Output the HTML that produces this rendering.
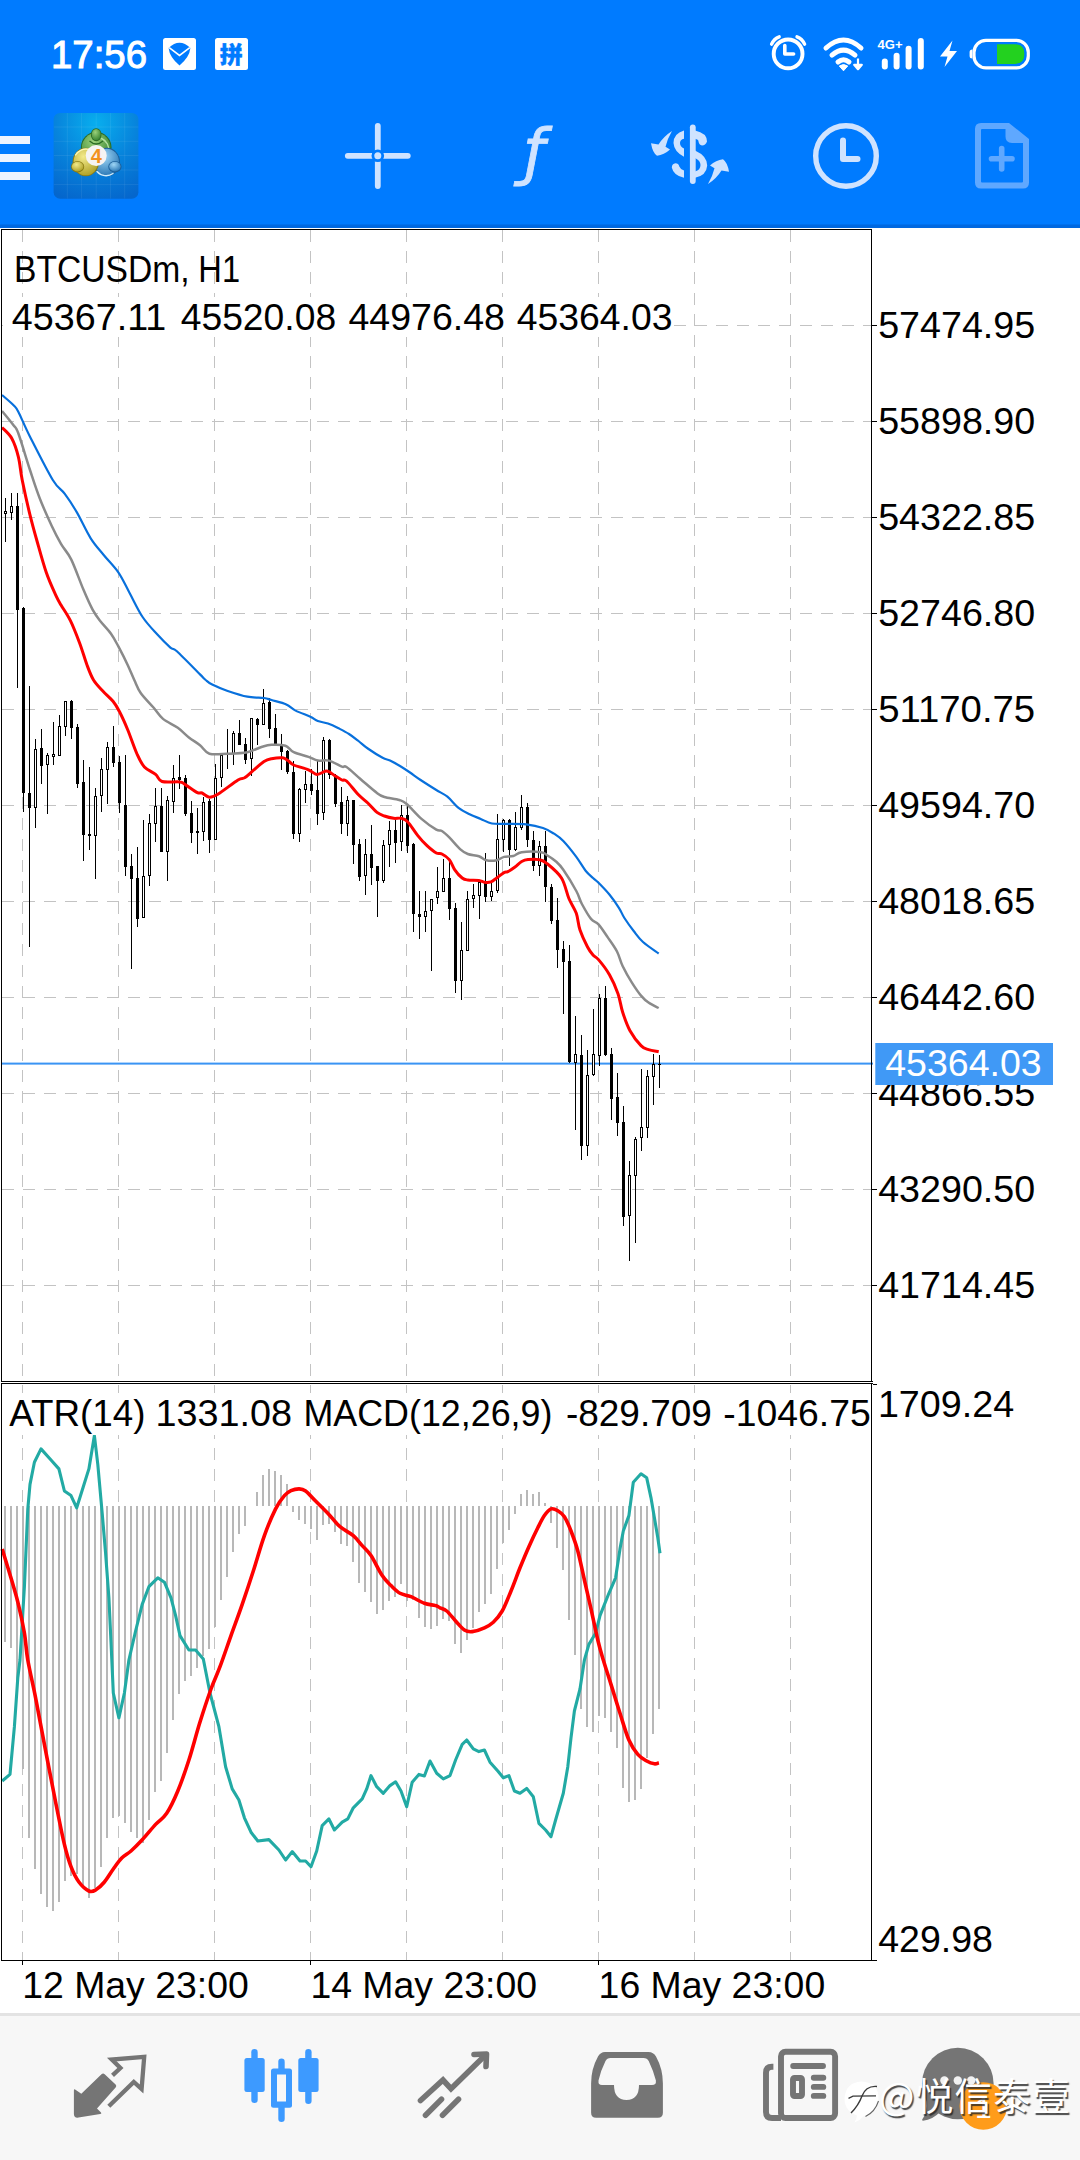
<!DOCTYPE html>
<html><head><meta charset="utf-8"><title>MetaTrader 4 - BTCUSDm, H1</title>
<style>
html,body{margin:0;padding:0;background:#fff}
body{width:1080px;height:2160px;position:relative;overflow:hidden;font-family:"Liberation Sans","Noto Sans CJK SC",sans-serif}
#top{position:absolute;left:0;top:0;width:1080px;height:228px;background:#007bff}
#nav{position:absolute;left:0;top:2013px;width:1080px;height:147px;background:#f7f7f7;border-top:3px solid #e3e3e3;box-sizing:border-box}
.abs{position:absolute}
</style></head><body>
<div id="top"></div>
<svg id="topsvg" width="1080" height="228" viewBox="0 0 1080 228" style="position:absolute;left:0;top:0">
<rect x="0" y="224.500" width="1080" height="3.500" fill="#0068e0"/>
<!-- status bar -->
<text x="51" y="67.5" font-family="Liberation Sans, Arial, sans-serif" font-size="38" fill="#fff" stroke="#fff" stroke-width="1.0" textLength="96" lengthAdjust="spacingAndGlyphs">17:56</text>
<rect x="163" y="38" width="33" height="32" rx="2.5" fill="#fff"/>
<path d="M168.6 47.9Q179.5 37.5 190.4 47.9Q189.5 57 179.5 65.4Q169.5 57 168.6 47.9Z" fill="#007bff"/>
<path d="M169.2 47.7L179.5 55.5L189.8 47.7" fill="none" stroke="#fff" stroke-width="1.6"/>
<rect x="215" y="38" width="33" height="32" rx="2.5" fill="#fff"/>
<text x="231.3" y="62.5" text-anchor="middle" font-family="Noto Sans CJK SC, WenQuanYi Zen Hei, sans-serif" font-weight="900" font-size="23" fill="#007bff" stroke="#007bff" stroke-width="0.4">拼</text>
<!-- alarm -->
<g fill="none" stroke="#fff" stroke-linecap="round">
<circle cx="788.1" cy="53.9" r="14.4" stroke-width="3.9"/>
<path d="M784.8 45.6V54H793.6" stroke-width="3.6" stroke-linejoin="round"/>
<path d="M771.6 44.2Q774 38.600 779.2 36.800" stroke-width="3.4"/>
<path d="M804.6 44.2Q802.200 38.600 797 36.800" stroke-width="3.4"/>
</g>
<!-- wifi -->
<g fill="none" stroke="#fff" stroke-width="5" stroke-linecap="round">
<path d="M826 48Q843.500 32 861 48"/>
<path d="M832 55.200Q843.500 45.200 855 55.200"/>
<path d="M838 62Q843.500 57.500 849 62"/>
</g>
<path d="M843.500 70.800L839.300 66Q843.500 63 847.700 66Z" fill="#fff" stroke="#fff" stroke-width="1" stroke-linejoin="round"/>
<path d="M858 58.500V65.500M854.200 64.800L858 69.200L861.800 64.800Z" fill="#fff" stroke="#fff" stroke-width="2.200" stroke-linejoin="round"/>
<!-- 4G+ and signal -->
<text x="877.5" y="48.6" font-family="Liberation Sans, Arial, sans-serif" font-weight="700" font-size="13.5" fill="#fff" textLength="25" lengthAdjust="spacingAndGlyphs">4G+</text>
<g fill="#fff">
<rect x="881.8" y="58.6" width="6" height="11" rx="3"/>
<rect x="893.6" y="52.8" width="6" height="16.8" rx="3"/>
<rect x="905.6" y="45.8" width="6" height="23.8" rx="3"/>
<rect x="917.8" y="38" width="6" height="31.6" rx="3"/>
</g>
<!-- bolt -->
<path d="M952.5 40.5L940 56.5H947.5L944.5 67L957 51H949.5Z" fill="#fff"/>
<!-- battery -->
<rect x="974" y="40.3" width="54.3" height="27.6" rx="12" fill="none" stroke="#fff" stroke-width="3.2"/>
<path d="M972.3 49.5Q969.6 49.5 969.6 52V56Q969.6 58.5 972.3 58.5Z" fill="#fff"/>
<path d="M997 44.2H1015Q1024.4 44.2 1024.4 54Q1024.4 63.9 1015 63.9H997Z" fill="#23d11f"/>
<!-- hamburger -->
<g fill="#eef4ff">
<rect x="0" y="136" width="30" height="8"/>
<rect x="0" y="154" width="30" height="8"/>
<rect x="0" y="172" width="30" height="8"/>
</g>
<!-- MT4 logo -->
<defs>
<radialGradient id="lg" cx="0.5" cy="0.12" r="0.95">
<stop offset="0" stop-color="#08aeee"/><stop offset="0.500" stop-color="#0784dc"/><stop offset="1" stop-color="#0566cc"/>
</radialGradient>
<radialGradient id="gG" cx="0.4" cy="0.3" r="0.8"><stop offset="0" stop-color="#9ad07a"/><stop offset="1" stop-color="#2f7d2a"/></radialGradient>
<radialGradient id="gY" cx="0.4" cy="0.3" r="0.8"><stop offset="0" stop-color="#f3ea8a"/><stop offset="1" stop-color="#a99a1e"/></radialGradient>
<radialGradient id="gB" cx="0.4" cy="0.3" r="0.8"><stop offset="0" stop-color="#9fd6f5"/><stop offset="1" stop-color="#1f6fb0"/></radialGradient>
</defs>
<rect x="53.6" y="112.900" width="84.800" height="85.800" rx="6.500" fill="url(#lg)"/>
<g stroke="#ffffff" stroke-opacity="0.070" stroke-width="1">
<path d="M67.300 113V198.500M81.600 113V198.500M96.200 113V198.500M110.400 113V198.500M124.700 113V198.500M54 127H138.400M54 141.300H138.400M54 155.500H138.400M54 170H138.400M54 184.400H138.400"/>
</g>
<!-- green figure -->
<circle cx="96.200" cy="147.300" r="15.300" fill="#2a6a24"/>
<circle cx="96.200" cy="147.300" r="14.300" fill="url(#gG)"/>
<path d="M101.500 138.500A12 12 0 0 1 108.500 152" fill="none" stroke="#b4dea0" stroke-width="1.400" stroke-linecap="round"/>
<path d="M89.500 141Q96.200 147 103 141" fill="none" stroke="#2a6a24" stroke-width="1.200"/>
<ellipse cx="96.200" cy="134.700" rx="5.300" ry="6.500" fill="#2a6a24"/>
<ellipse cx="96.200" cy="134.600" rx="4.500" ry="5.700" fill="url(#gG)"/>
<!-- blue figure -->
<ellipse cx="106.800" cy="162" rx="13.200" ry="14.300" fill="#1b5d96"/>
<ellipse cx="106.800" cy="162" rx="12.200" ry="13.300" fill="url(#gB)"/>
<path d="M113 173.500A12 12 0 0 1 97 171.500" fill="none" stroke="#d0ecfb" stroke-width="1.400" stroke-linecap="round"/>
<ellipse cx="114.900" cy="166.700" rx="6.600" ry="5.700" fill="#1b5d96"/>
<ellipse cx="114.900" cy="166.600" rx="5.800" ry="4.900" fill="url(#gB)"/>
<!-- yellow figure -->
<ellipse cx="85.800" cy="162" rx="13.200" ry="14.300" fill="#8a7c14"/>
<ellipse cx="85.800" cy="162" rx="12.200" ry="13.300" fill="url(#gY)"/>
<path d="M75.500 155A12 12 0 0 1 88.500 149.300" fill="none" stroke="#faf6b8" stroke-width="1.400" stroke-linecap="round"/>
<ellipse cx="77.600" cy="166.700" rx="6.600" ry="5.700" fill="#8a7c14"/>
<ellipse cx="77.600" cy="166.600" rx="5.800" ry="4.900" fill="url(#gY)"/>
<circle cx="96.200" cy="155.600" r="10.500" fill="#f6f4f2"/>
<text x="96.200" y="162.800" text-anchor="middle" font-family="Liberation Sans, Arial, sans-serif" font-weight="700" font-size="20" fill="#f2921e">4</text>
<!-- crosshair -->
<path d="M377.800 125.800V186M347.800 155.800H407.800" stroke="#cfe3ff" stroke-width="5.800" stroke-linecap="round" fill="none"/>
<circle cx="377.800" cy="155.800" r="6.300" fill="#007bff"/>
<circle cx="377.800" cy="155.800" r="3.500" fill="#cfe3ff"/>
<!-- f -->
<text x="523.5" y="173" font-family="DejaVu Sans, Liberation Sans, sans-serif" font-style="italic" font-size="62" fill="#cfe3ff" stroke="#cfe3ff" stroke-width="0.8">ƒ</text>
<!-- dollar swap -->
<g fill="none" stroke="#cfe3ff" stroke-linecap="round">
<path d="M692.8 127.3V181" stroke-width="5.8"/>
</g>
<g fill="#cfe3ff">
<path d="M695 130.5Q707 133 707 141.5Q705.5 145.500 702 145.500Q699 145 698.500 141.500Q698.500 139.500 695 138.800Z"/>
<path d="M695 150.500Q707.200 156 707.200 165.500Q706.500 175.500 695 177.800ZM695 158V171.500Q700.500 170 700.500 165Q700.500 160.500 695 158Z" fill-rule="evenodd"/>
<path d="M684 130.500Q673.500 133.500 673.500 143Q674 151.500 684 156.800V148.500Q680 146.500 680 143Q680 139.500 684 138.800Z"/>
<path d="M684 177.800Q673.500 175.500 671.800 167.500Q672 163.500 675.500 163.200Q678.500 163.200 679.300 166.500Q680.500 169.500 684 170.500Z"/>
<path d="M672 131Q663.500 136.500 658.500 144.500L651 143.200Q652.500 152.500 657 155.800Q664 155 670 149.500L665.500 146.800Q667.500 138.500 672 131Z"/>
<path d="M708 183.900Q716.500 178.500 721.500 170.400L729 171.700Q727.500 162.500 723 159.200Q716 160 710 165.500L714.500 168.200Q712.500 176.500 708 183.900Z"/>
</g>
<!-- clock -->
<circle cx="846" cy="156" r="30.3" fill="none" stroke="#cfe3ff" stroke-width="5.4"/>
<path d="M843 140.500V159H857.500" fill="none" stroke="#cfe3ff" stroke-width="6" stroke-linecap="round" stroke-linejoin="round"/>
<!-- new doc (disabled) -->
<path d="M981 123H1009L1029 139V182.500Q1029 188.600 1023 188.600H981Q975 188.600 975 182.500V129Q975 123 981 123ZM981 130V181.600Q981 182.600 982 182.600H1022Q1023 182.600 1023 181.600V143H1012Q1005.500 143 1005.500 136.500V129H982Q981 129 981 130Z" fill="#5fa8ff" fill-rule="evenodd"/>
<path d="M1001.700 148.500V169M991.500 158.700H1012" stroke="#5fa8ff" stroke-width="5.600" stroke-linecap="round" fill="none"/>
</svg>

<svg id="chart" width="1080" height="1786" viewBox="0 228 1080 1786" style="position:absolute;left:0;top:228px">
<rect x="0" y="228" width="1080" height="1786" fill="#fff"/>
<g stroke="#c3c3c3" stroke-width="1" shape-rendering="crispEdges" fill="none">
<path d="M22.5 230V1381" stroke-dasharray="12 9"/>
<path d="M22.5 1385V1960" stroke-dasharray="12 9"/>
<path d="M118.5 230V1381" stroke-dasharray="12 9"/>
<path d="M118.5 1385V1960" stroke-dasharray="12 9"/>
<path d="M214.5 230V1381" stroke-dasharray="12 9"/>
<path d="M214.5 1385V1960" stroke-dasharray="12 9"/>
<path d="M310.5 230V1381" stroke-dasharray="12 9"/>
<path d="M310.5 1385V1960" stroke-dasharray="12 9"/>
<path d="M406.5 230V1381" stroke-dasharray="12 9"/>
<path d="M406.5 1385V1960" stroke-dasharray="12 9"/>
<path d="M502.5 230V1381" stroke-dasharray="12 9"/>
<path d="M502.5 1385V1960" stroke-dasharray="12 9"/>
<path d="M598.5 230V1381" stroke-dasharray="12 9"/>
<path d="M598.5 1385V1960" stroke-dasharray="12 9"/>
<path d="M694.5 230V1381" stroke-dasharray="12 9"/>
<path d="M694.5 1385V1960" stroke-dasharray="12 9"/>
<path d="M790.5 230V1381" stroke-dasharray="12 9"/>
<path d="M790.5 1385V1960" stroke-dasharray="12 9"/>
<path d="M2 325.5H871" stroke-dasharray="12 9"/>
<path d="M2 421.5H871" stroke-dasharray="12 9"/>
<path d="M2 517.5H871" stroke-dasharray="12 9"/>
<path d="M2 613.5H871" stroke-dasharray="12 9"/>
<path d="M2 709.5H871" stroke-dasharray="12 9"/>
<path d="M2 805.5H871" stroke-dasharray="12 9"/>
<path d="M2 901.5H871" stroke-dasharray="12 9"/>
<path d="M2 997.5H871" stroke-dasharray="12 9"/>
<path d="M2 1093.5H871" stroke-dasharray="12 9"/>
<path d="M2 1189.5H871" stroke-dasharray="12 9"/>
<path d="M2 1285.5H871" stroke-dasharray="12 9"/>
</g>
<g fill="#b8b8b8" shape-rendering="crispEdges">
<rect x="4" y="1506" width="2" height="136"/>
<rect x="10" y="1506" width="2" height="142"/>
<rect x="16" y="1506" width="2" height="184"/>
<rect x="22" y="1506" width="2" height="263"/>
<rect x="28" y="1506" width="2" height="332"/>
<rect x="34" y="1506" width="2" height="363"/>
<rect x="40" y="1506" width="2" height="388"/>
<rect x="46" y="1506" width="2" height="401"/>
<rect x="52" y="1506" width="2" height="405"/>
<rect x="58" y="1506" width="2" height="396"/>
<rect x="64" y="1506" width="2" height="375"/>
<rect x="70" y="1506" width="2" height="370"/>
<rect x="76" y="1506" width="2" height="368"/>
<rect x="82" y="1506" width="2" height="379"/>
<rect x="88" y="1506" width="2" height="392"/>
<rect x="94" y="1506" width="2" height="382"/>
<rect x="100" y="1506" width="2" height="361"/>
<rect x="106" y="1506" width="2" height="332"/>
<rect x="112" y="1506" width="2" height="312"/>
<rect x="118" y="1506" width="2" height="310"/>
<rect x="124" y="1506" width="2" height="317"/>
<rect x="130" y="1506" width="2" height="326"/>
<rect x="136" y="1506" width="2" height="332"/>
<rect x="142" y="1506" width="2" height="337"/>
<rect x="148" y="1506" width="2" height="314"/>
<rect x="154" y="1506" width="2" height="286"/>
<rect x="160" y="1506" width="2" height="275"/>
<rect x="166" y="1506" width="2" height="247"/>
<rect x="172" y="1506" width="2" height="214"/>
<rect x="178" y="1506" width="2" height="188"/>
<rect x="184" y="1506" width="2" height="175"/>
<rect x="190" y="1506" width="2" height="170"/>
<rect x="196" y="1506" width="2" height="162"/>
<rect x="202" y="1506" width="2" height="150"/>
<rect x="208" y="1506" width="2" height="143"/>
<rect x="214" y="1506" width="2" height="121"/>
<rect x="220" y="1506" width="2" height="94"/>
<rect x="226" y="1506" width="2" height="71"/>
<rect x="232" y="1506" width="2" height="46"/>
<rect x="238" y="1506" width="2" height="28"/>
<rect x="244" y="1506" width="2" height="20"/>
<rect x="256" y="1492" width="2" height="14"/>
<rect x="262" y="1475" width="2" height="31"/>
<rect x="268" y="1469" width="2" height="37"/>
<rect x="274" y="1471" width="2" height="35"/>
<rect x="280" y="1475" width="2" height="31"/>
<rect x="286" y="1484" width="2" height="22"/>
<rect x="292" y="1506" width="2" height="6"/>
<rect x="298" y="1506" width="2" height="14"/>
<rect x="304" y="1506" width="2" height="18"/>
<rect x="310" y="1506" width="2" height="23"/>
<rect x="316" y="1506" width="2" height="34"/>
<rect x="322" y="1506" width="2" height="19"/>
<rect x="328" y="1506" width="2" height="18"/>
<rect x="334" y="1506" width="2" height="26"/>
<rect x="340" y="1506" width="2" height="38"/>
<rect x="346" y="1506" width="2" height="40"/>
<rect x="352" y="1506" width="2" height="56"/>
<rect x="358" y="1506" width="2" height="77"/>
<rect x="364" y="1506" width="2" height="86"/>
<rect x="370" y="1506" width="2" height="96"/>
<rect x="376" y="1506" width="2" height="108"/>
<rect x="382" y="1506" width="2" height="104"/>
<rect x="388" y="1506" width="2" height="95"/>
<rect x="394" y="1506" width="2" height="91"/>
<rect x="400" y="1506" width="2" height="78"/>
<rect x="406" y="1506" width="2" height="95"/>
<rect x="412" y="1506" width="2" height="94"/>
<rect x="418" y="1506" width="2" height="112"/>
<rect x="424" y="1506" width="2" height="121"/>
<rect x="430" y="1506" width="2" height="123"/>
<rect x="436" y="1506" width="2" height="120"/>
<rect x="442" y="1506" width="2" height="113"/>
<rect x="448" y="1506" width="2" height="115"/>
<rect x="454" y="1506" width="2" height="138"/>
<rect x="460" y="1506" width="2" height="147"/>
<rect x="466" y="1506" width="2" height="134"/>
<rect x="472" y="1506" width="2" height="122"/>
<rect x="478" y="1506" width="2" height="106"/>
<rect x="484" y="1506" width="2" height="98"/>
<rect x="490" y="1506" width="2" height="88"/>
<rect x="496" y="1506" width="2" height="63"/>
<rect x="502" y="1506" width="2" height="37"/>
<rect x="508" y="1506" width="2" height="24"/>
<rect x="514" y="1506" width="2" height="8"/>
<rect x="520" y="1494" width="2" height="12"/>
<rect x="526" y="1490" width="2" height="16"/>
<rect x="532" y="1494" width="2" height="12"/>
<rect x="538" y="1492" width="2" height="14"/>
<rect x="544" y="1503" width="2" height="3"/>
<rect x="550" y="1506" width="2" height="17"/>
<rect x="556" y="1506" width="2" height="42"/>
<rect x="562" y="1506" width="2" height="64"/>
<rect x="568" y="1506" width="2" height="114"/>
<rect x="574" y="1506" width="2" height="149"/>
<rect x="580" y="1506" width="2" height="203"/>
<rect x="586" y="1506" width="2" height="221"/>
<rect x="592" y="1506" width="2" height="226"/>
<rect x="598" y="1506" width="2" height="210"/>
<rect x="604" y="1506" width="2" height="212"/>
<rect x="610" y="1506" width="2" height="226"/>
<rect x="616" y="1506" width="2" height="242"/>
<rect x="622" y="1506" width="2" height="282"/>
<rect x="628" y="1506" width="2" height="296"/>
<rect x="634" y="1506" width="2" height="294"/>
<rect x="640" y="1506" width="2" height="283"/>
<rect x="646" y="1506" width="2" height="252"/>
<rect x="652" y="1506" width="2" height="228"/>
<rect x="658" y="1506" width="2" height="203"/>
</g>
<rect x="2" y="1062.600" width="871" height="2" fill="#3a94f4"/>
<g fill="#000" shape-rendering="crispEdges">
<rect x="5" y="498" width="1" height="44"/>
<rect x="4" y="511" width="3" height="3"/>
<rect x="5" y="512" width="1" height="1" fill="#fff"/>
<rect x="11" y="493" width="1" height="27"/>
<rect x="10" y="506" width="3" height="7"/>
<rect x="11" y="507" width="1" height="5" fill="#fff"/>
<rect x="17" y="493" width="1" height="195"/>
<rect x="16" y="506" width="3" height="104"/>
<rect x="23" y="607" width="1" height="205"/>
<rect x="22" y="608" width="3" height="185"/>
<rect x="29" y="686" width="1" height="261"/>
<rect x="28" y="793" width="3" height="15"/>
<rect x="35" y="739" width="1" height="89"/>
<rect x="34" y="749" width="3" height="59"/>
<rect x="35" y="750" width="1" height="57" fill="#fff"/>
<rect x="41" y="729" width="1" height="55"/>
<rect x="40" y="748" width="3" height="18"/>
<rect x="47" y="753" width="1" height="61"/>
<rect x="46" y="755" width="3" height="10"/>
<rect x="47" y="756" width="1" height="8" fill="#fff"/>
<rect x="53" y="722" width="1" height="43"/>
<rect x="52" y="754" width="3" height="3"/>
<rect x="53" y="755" width="1" height="1" fill="#fff"/>
<rect x="59" y="715" width="1" height="41"/>
<rect x="58" y="726" width="3" height="30"/>
<rect x="59" y="727" width="1" height="28" fill="#fff"/>
<rect x="65" y="701" width="1" height="35"/>
<rect x="64" y="701" width="3" height="26"/>
<rect x="65" y="702" width="1" height="24" fill="#fff"/>
<rect x="71" y="700" width="1" height="39"/>
<rect x="70" y="701" width="3" height="27"/>
<rect x="77" y="724" width="1" height="64"/>
<rect x="76" y="727" width="3" height="57"/>
<rect x="83" y="760" width="1" height="101"/>
<rect x="82" y="782" width="3" height="53"/>
<rect x="89" y="767" width="1" height="83"/>
<rect x="88" y="834" width="3" height="2"/>
<rect x="95" y="788" width="1" height="91"/>
<rect x="94" y="796" width="3" height="40"/>
<rect x="95" y="797" width="1" height="38" fill="#fff"/>
<rect x="101" y="758" width="1" height="54"/>
<rect x="100" y="769" width="3" height="27"/>
<rect x="101" y="770" width="1" height="25" fill="#fff"/>
<rect x="107" y="742" width="1" height="62"/>
<rect x="106" y="747" width="3" height="23"/>
<rect x="107" y="748" width="1" height="21" fill="#fff"/>
<rect x="113" y="726" width="1" height="41"/>
<rect x="112" y="747" width="3" height="16"/>
<rect x="119" y="756" width="1" height="57"/>
<rect x="118" y="762" width="3" height="41"/>
<rect x="125" y="755" width="1" height="121"/>
<rect x="124" y="805" width="3" height="62"/>
<rect x="131" y="854" width="1" height="115"/>
<rect x="130" y="866" width="3" height="13"/>
<rect x="137" y="847" width="1" height="80"/>
<rect x="136" y="878" width="3" height="41"/>
<rect x="143" y="820" width="1" height="98"/>
<rect x="142" y="876" width="3" height="42"/>
<rect x="143" y="877" width="1" height="40" fill="#fff"/>
<rect x="149" y="814" width="1" height="72"/>
<rect x="148" y="823" width="3" height="53"/>
<rect x="149" y="824" width="1" height="51" fill="#fff"/>
<rect x="155" y="788" width="1" height="54"/>
<rect x="154" y="806" width="3" height="18"/>
<rect x="155" y="807" width="1" height="16" fill="#fff"/>
<rect x="161" y="788" width="1" height="64"/>
<rect x="160" y="806" width="3" height="46"/>
<rect x="167" y="796" width="1" height="85"/>
<rect x="166" y="800" width="3" height="52"/>
<rect x="167" y="801" width="1" height="50" fill="#fff"/>
<rect x="173" y="765" width="1" height="48"/>
<rect x="172" y="778" width="3" height="24"/>
<rect x="173" y="779" width="1" height="22" fill="#fff"/>
<rect x="179" y="755" width="1" height="34"/>
<rect x="178" y="777" width="3" height="3"/>
<rect x="185" y="775" width="1" height="41"/>
<rect x="184" y="778" width="3" height="36"/>
<rect x="191" y="801" width="1" height="42"/>
<rect x="190" y="813" width="3" height="20"/>
<rect x="197" y="808" width="1" height="46"/>
<rect x="196" y="831" width="3" height="2"/>
<rect x="203" y="797" width="1" height="44"/>
<rect x="202" y="802" width="3" height="30"/>
<rect x="203" y="803" width="1" height="28" fill="#fff"/>
<rect x="209" y="799" width="1" height="54"/>
<rect x="208" y="801" width="3" height="39"/>
<rect x="215" y="764" width="1" height="76"/>
<rect x="214" y="778" width="3" height="62"/>
<rect x="215" y="779" width="1" height="60" fill="#fff"/>
<rect x="221" y="755" width="1" height="32"/>
<rect x="220" y="755" width="3" height="23"/>
<rect x="221" y="756" width="1" height="21" fill="#fff"/>
<rect x="227" y="729" width="1" height="40"/>
<rect x="226" y="754" width="3" height="1"/>
<rect x="233" y="731" width="1" height="34"/>
<rect x="232" y="733" width="3" height="21"/>
<rect x="233" y="734" width="1" height="19" fill="#fff"/>
<rect x="239" y="720" width="1" height="25"/>
<rect x="238" y="733" width="3" height="12"/>
<rect x="245" y="738" width="1" height="26"/>
<rect x="244" y="744" width="3" height="16"/>
<rect x="251" y="718" width="1" height="58"/>
<rect x="250" y="718" width="3" height="41"/>
<rect x="251" y="719" width="1" height="39" fill="#fff"/>
<rect x="257" y="718" width="1" height="27"/>
<rect x="256" y="719" width="3" height="6"/>
<rect x="263" y="689" width="1" height="36"/>
<rect x="262" y="703" width="3" height="22"/>
<rect x="263" y="704" width="1" height="20" fill="#fff"/>
<rect x="269" y="698" width="1" height="40"/>
<rect x="268" y="702" width="3" height="27"/>
<rect x="275" y="714" width="1" height="30"/>
<rect x="274" y="728" width="3" height="16"/>
<rect x="281" y="734" width="1" height="36"/>
<rect x="280" y="744" width="3" height="8"/>
<rect x="287" y="750" width="1" height="24"/>
<rect x="286" y="751" width="3" height="21"/>
<rect x="293" y="761" width="1" height="78"/>
<rect x="292" y="772" width="3" height="62"/>
<rect x="299" y="788" width="1" height="54"/>
<rect x="298" y="789" width="3" height="45"/>
<rect x="299" y="790" width="1" height="43" fill="#fff"/>
<rect x="305" y="771" width="1" height="32"/>
<rect x="304" y="784" width="3" height="6"/>
<rect x="305" y="785" width="1" height="4" fill="#fff"/>
<rect x="311" y="769" width="1" height="26"/>
<rect x="310" y="784" width="3" height="7"/>
<rect x="317" y="761" width="1" height="64"/>
<rect x="316" y="790" width="3" height="24"/>
<rect x="323" y="737" width="1" height="83"/>
<rect x="322" y="740" width="3" height="73"/>
<rect x="323" y="741" width="1" height="71" fill="#fff"/>
<rect x="329" y="739" width="1" height="40"/>
<rect x="328" y="740" width="3" height="35"/>
<rect x="335" y="774" width="1" height="33"/>
<rect x="334" y="775" width="3" height="29"/>
<rect x="341" y="787" width="1" height="47"/>
<rect x="340" y="802" width="3" height="22"/>
<rect x="347" y="796" width="1" height="40"/>
<rect x="346" y="800" width="3" height="24"/>
<rect x="347" y="801" width="1" height="22" fill="#fff"/>
<rect x="353" y="800" width="1" height="64"/>
<rect x="352" y="800" width="3" height="45"/>
<rect x="359" y="839" width="1" height="42"/>
<rect x="358" y="844" width="3" height="33"/>
<rect x="365" y="839" width="1" height="56"/>
<rect x="364" y="854" width="3" height="22"/>
<rect x="365" y="855" width="1" height="20" fill="#fff"/>
<rect x="371" y="825" width="1" height="60"/>
<rect x="370" y="854" width="3" height="14"/>
<rect x="377" y="866" width="1" height="51"/>
<rect x="376" y="866" width="3" height="15"/>
<rect x="383" y="840" width="1" height="43"/>
<rect x="382" y="845" width="3" height="36"/>
<rect x="383" y="846" width="1" height="34" fill="#fff"/>
<rect x="389" y="821" width="1" height="46"/>
<rect x="388" y="830" width="3" height="15"/>
<rect x="389" y="831" width="1" height="13" fill="#fff"/>
<rect x="395" y="820" width="1" height="43"/>
<rect x="394" y="830" width="3" height="13"/>
<rect x="401" y="805" width="1" height="46"/>
<rect x="400" y="815" width="3" height="27"/>
<rect x="401" y="816" width="1" height="25" fill="#fff"/>
<rect x="407" y="806" width="1" height="47"/>
<rect x="406" y="815" width="3" height="31"/>
<rect x="413" y="843" width="1" height="89"/>
<rect x="412" y="844" width="3" height="70"/>
<rect x="419" y="891" width="1" height="48"/>
<rect x="418" y="914" width="3" height="3"/>
<rect x="425" y="891" width="1" height="41"/>
<rect x="424" y="911" width="3" height="6"/>
<rect x="425" y="912" width="1" height="4" fill="#fff"/>
<rect x="431" y="899" width="1" height="72"/>
<rect x="430" y="899" width="3" height="12"/>
<rect x="431" y="900" width="1" height="10" fill="#fff"/>
<rect x="437" y="867" width="1" height="37"/>
<rect x="436" y="891" width="3" height="7"/>
<rect x="437" y="892" width="1" height="5" fill="#fff"/>
<rect x="443" y="859" width="1" height="33"/>
<rect x="442" y="878" width="3" height="14"/>
<rect x="443" y="879" width="1" height="12" fill="#fff"/>
<rect x="449" y="861" width="1" height="59"/>
<rect x="448" y="878" width="3" height="31"/>
<rect x="455" y="903" width="1" height="90"/>
<rect x="454" y="908" width="3" height="73"/>
<rect x="461" y="922" width="1" height="78"/>
<rect x="460" y="950" width="3" height="31"/>
<rect x="461" y="951" width="1" height="29" fill="#fff"/>
<rect x="467" y="891" width="1" height="60"/>
<rect x="466" y="899" width="3" height="52"/>
<rect x="467" y="900" width="1" height="50" fill="#fff"/>
<rect x="473" y="884" width="1" height="24"/>
<rect x="472" y="895" width="3" height="4"/>
<rect x="473" y="896" width="1" height="2" fill="#fff"/>
<rect x="479" y="882" width="1" height="37"/>
<rect x="478" y="882" width="3" height="14"/>
<rect x="479" y="883" width="1" height="12" fill="#fff"/>
<rect x="485" y="853" width="1" height="49"/>
<rect x="484" y="881" width="3" height="16"/>
<rect x="491" y="883" width="1" height="18"/>
<rect x="490" y="891" width="3" height="6"/>
<rect x="491" y="892" width="1" height="4" fill="#fff"/>
<rect x="497" y="814" width="1" height="79"/>
<rect x="496" y="839" width="3" height="52"/>
<rect x="497" y="840" width="1" height="50" fill="#fff"/>
<rect x="503" y="819" width="1" height="33"/>
<rect x="502" y="820" width="3" height="20"/>
<rect x="503" y="821" width="1" height="18" fill="#fff"/>
<rect x="509" y="819" width="1" height="47"/>
<rect x="508" y="820" width="3" height="30"/>
<rect x="515" y="812" width="1" height="39"/>
<rect x="514" y="827" width="3" height="23"/>
<rect x="515" y="828" width="1" height="21" fill="#fff"/>
<rect x="521" y="795" width="1" height="35"/>
<rect x="520" y="807" width="3" height="21"/>
<rect x="521" y="808" width="1" height="19" fill="#fff"/>
<rect x="527" y="803" width="1" height="44"/>
<rect x="526" y="807" width="3" height="33"/>
<rect x="533" y="831" width="1" height="40"/>
<rect x="532" y="840" width="3" height="26"/>
<rect x="539" y="841" width="1" height="35"/>
<rect x="538" y="846" width="3" height="20"/>
<rect x="539" y="847" width="1" height="18" fill="#fff"/>
<rect x="545" y="831" width="1" height="71"/>
<rect x="544" y="846" width="3" height="41"/>
<rect x="551" y="884" width="1" height="40"/>
<rect x="550" y="887" width="3" height="34"/>
<rect x="557" y="898" width="1" height="70"/>
<rect x="556" y="920" width="3" height="30"/>
<rect x="563" y="941" width="1" height="73"/>
<rect x="562" y="949" width="3" height="13"/>
<rect x="569" y="945" width="1" height="118"/>
<rect x="568" y="961" width="3" height="101"/>
<rect x="575" y="1016" width="1" height="114"/>
<rect x="574" y="1054" width="3" height="9"/>
<rect x="575" y="1055" width="1" height="7" fill="#fff"/>
<rect x="581" y="1035" width="1" height="125"/>
<rect x="580" y="1055" width="3" height="91"/>
<rect x="587" y="1050" width="1" height="106"/>
<rect x="586" y="1075" width="3" height="71"/>
<rect x="587" y="1076" width="1" height="69" fill="#fff"/>
<rect x="593" y="1009" width="1" height="67"/>
<rect x="592" y="1054" width="3" height="21"/>
<rect x="593" y="1055" width="1" height="19" fill="#fff"/>
<rect x="599" y="994" width="1" height="72"/>
<rect x="598" y="998" width="3" height="58"/>
<rect x="599" y="999" width="1" height="56" fill="#fff"/>
<rect x="605" y="986" width="1" height="70"/>
<rect x="604" y="998" width="3" height="57"/>
<rect x="611" y="1048" width="1" height="72"/>
<rect x="610" y="1054" width="3" height="45"/>
<rect x="617" y="1073" width="1" height="63"/>
<rect x="616" y="1097" width="3" height="26"/>
<rect x="623" y="1106" width="1" height="120"/>
<rect x="622" y="1122" width="3" height="95"/>
<rect x="629" y="1161" width="1" height="100"/>
<rect x="628" y="1175" width="3" height="41"/>
<rect x="629" y="1176" width="1" height="39" fill="#fff"/>
<rect x="635" y="1137" width="1" height="106"/>
<rect x="634" y="1139" width="3" height="37"/>
<rect x="635" y="1140" width="1" height="35" fill="#fff"/>
<rect x="641" y="1069" width="1" height="82"/>
<rect x="640" y="1127" width="3" height="11"/>
<rect x="641" y="1128" width="1" height="9" fill="#fff"/>
<rect x="647" y="1070" width="1" height="68"/>
<rect x="646" y="1076" width="3" height="52"/>
<rect x="647" y="1077" width="1" height="50" fill="#fff"/>
<rect x="653" y="1054" width="1" height="51"/>
<rect x="652" y="1064" width="3" height="13"/>
<rect x="653" y="1065" width="1" height="11" fill="#fff"/>
<rect x="659" y="1055" width="1" height="33"/>
<rect x="658" y="1064" width="3" height="1"/>
</g>
<path d="M2.0 395.0C3.9 396.7 10.6 402.2 13.3 405.0C16.0 407.8 15.5 406.4 18.3 411.7C21.1 417.0 24.2 425.3 30.0 436.7C35.8 448.1 47.0 470.5 52.8 480.0C58.6 489.5 60.8 488.5 64.8 493.9C68.8 499.3 72.6 505.0 76.9 512.4C81.2 519.8 86.2 531.2 90.7 538.3C95.2 545.4 99.1 549.3 103.7 555.0C108.3 560.7 114.2 566.3 118.5 572.6C122.8 578.9 125.6 585.6 129.6 593.0C133.6 600.4 138.0 610.1 142.6 617.0C147.2 623.9 152.8 629.5 157.4 634.6C162.0 639.7 167.2 644.8 170.4 647.6C173.7 650.4 172.0 646.8 176.9 651.3C181.8 655.8 195.2 669.6 200.0 674.4C204.8 679.2 203.7 678.3 205.7 680.0C207.7 681.7 208.6 682.8 212.2 684.6C215.8 686.4 221.1 688.7 227.0 690.7C232.9 692.7 241.2 695.5 247.4 696.7C253.6 697.9 260.0 697.5 264.0 698.0C268.0 698.5 267.8 698.9 271.5 700.0C275.2 701.1 282.3 702.6 286.3 704.4C290.3 706.2 291.6 708.5 295.6 710.6C299.6 712.7 306.7 715.0 310.4 716.7C314.1 718.4 314.9 719.9 317.8 721.0C320.7 722.1 324.6 722.3 328.0 723.5C331.4 724.7 334.5 726.2 338.0 728.0C341.5 729.8 345.6 731.8 349.0 734.0C352.4 736.2 355.4 738.6 358.5 741.0C361.6 743.4 363.8 745.7 367.8 748.5C371.8 751.3 378.9 755.8 382.6 757.8C386.3 759.8 387.1 759.2 390.0 760.6C392.9 762.0 396.7 764.0 400.0 766.0C403.3 768.0 406.6 770.2 410.0 772.5C413.4 774.8 416.2 777.1 420.6 780.0C425.0 782.9 431.8 787.2 436.3 790.0C440.8 792.8 443.7 793.7 447.4 796.7C451.1 799.7 454.8 804.9 458.5 807.8C462.2 810.7 465.9 812.4 469.6 814.3C473.3 816.1 477.0 817.4 480.7 818.9C484.4 820.4 487.6 822.7 491.9 823.5C496.2 824.3 501.0 823.8 506.7 823.9C512.4 824.0 520.2 823.7 526.3 824.4C532.3 825.1 538.4 826.5 543.0 828.0C547.6 829.5 550.6 831.5 554.0 833.7C557.4 835.9 559.6 837.1 563.3 841.0C567.0 844.9 572.6 851.9 576.3 856.9C580.0 861.9 582.8 867.2 585.6 870.7C588.4 874.2 590.9 876.0 593.0 878.0C595.1 880.0 595.7 880.0 598.5 882.8C601.3 885.6 606.2 890.6 609.6 894.8C613.0 899.0 616.4 903.9 618.9 907.8C621.4 911.7 621.9 914.1 624.4 918.0C626.9 921.9 630.6 927.0 633.7 931.0C636.8 935.0 638.8 938.2 643.0 942.0C647.2 945.8 656.1 951.6 658.7 953.5" fill="none" stroke="#0870dc" stroke-width="2.2" stroke-linejoin="round"/>
<path d="M2.0 411.0C3.9 413.3 10.6 421.3 13.3 425.0C16.0 428.7 15.5 425.8 18.3 433.3C21.1 440.8 26.4 459.1 30.0 470.0C33.6 480.9 36.1 489.1 39.8 498.5C43.4 507.9 48.4 518.7 51.9 526.3C55.4 533.9 57.8 538.3 61.0 543.9C64.2 549.5 67.6 552.0 71.3 559.6C75.0 567.2 79.8 581.0 83.3 589.3C86.8 597.6 89.8 604.4 92.6 609.6C95.4 614.8 96.9 616.7 100.0 620.7C103.1 624.7 107.9 629.4 111.0 633.7C114.1 638.0 115.7 641.5 118.5 646.7C121.3 652.0 125.2 659.7 127.8 665.2C130.4 670.8 132.2 675.4 134.3 680.0C136.5 684.6 137.5 688.4 140.7 693.0C143.9 697.6 150.0 703.5 153.7 707.8C157.4 712.1 159.0 715.6 163.0 718.9C167.0 722.2 173.5 724.7 177.8 727.8C182.1 730.9 185.2 734.5 188.9 737.4C192.6 740.3 196.6 742.5 200.0 745.2C203.4 747.9 204.9 752.3 209.4 753.7C213.9 755.1 220.7 754.0 227.0 753.7C233.3 753.5 241.5 753.4 247.4 752.2C253.3 751.0 258.2 747.9 262.2 746.7C266.2 745.5 267.6 745.0 271.5 744.8C275.4 744.6 281.7 744.5 285.4 745.7C289.1 746.9 289.8 750.3 293.7 752.2C297.6 754.1 304.5 755.5 308.5 756.9C312.5 758.3 314.4 760.0 317.8 760.6C321.2 761.2 324.9 759.6 328.9 760.6C332.9 761.6 339.0 765.6 341.9 766.7C344.8 767.8 343.4 765.0 346.5 767.0C349.6 769.0 355.3 774.7 360.4 779.0C365.5 783.3 373.0 790.0 377.0 793.0C381.0 796.0 380.7 795.8 384.4 797.0C388.1 798.2 395.6 798.8 399.3 800.0C403.0 801.2 403.0 800.9 406.7 804.0C410.4 807.1 416.6 814.6 421.5 818.9C426.4 823.2 432.9 827.6 436.3 829.6C439.7 831.6 439.7 829.7 441.9 831.0C444.1 832.3 446.2 834.3 449.3 837.4C452.4 840.5 457.3 846.6 460.4 849.4C463.5 852.2 464.7 852.9 467.8 854.0C470.9 855.1 475.8 855.3 478.9 856.3C482.0 857.3 483.3 859.6 486.3 860.2C489.3 860.9 493.8 860.8 496.7 860.2C499.6 859.7 501.2 857.6 504.0 856.9C506.8 856.2 510.3 856.8 513.3 856.0C516.2 855.2 517.1 852.8 521.7 852.2C526.3 851.6 536.8 851.7 541.0 852.2C545.2 852.7 544.2 853.5 546.7 855.0C549.2 856.5 553.2 859.0 556.0 861.5C558.8 864.0 559.9 864.9 563.3 869.8C566.7 874.7 573.2 885.3 576.3 891.0C579.4 896.7 579.4 899.4 581.9 904.0C584.4 908.6 588.2 915.5 591.0 918.9C593.8 922.3 595.7 921.3 598.5 924.4C601.3 927.5 604.7 932.9 607.8 937.4C610.9 941.9 614.5 946.7 617.0 951.5C619.5 956.3 620.1 960.8 622.6 966.0C625.1 971.2 628.8 977.7 631.9 982.6C635.0 987.5 638.2 992.3 641.0 995.6C643.8 998.9 645.5 1000.5 648.5 1002.6C651.5 1004.7 657.0 1007.1 658.7 1008.0" fill="none" stroke="#8a8a8a" stroke-width="2.5" stroke-linejoin="round"/>
<path d="M2.0 427.5C3.6 429.3 9.0 433.4 11.7 438.3C14.4 443.2 16.6 449.8 18.3 456.7C20.1 463.6 20.3 470.6 22.2 480.0C24.1 489.4 27.1 503.1 29.6 513.3C32.1 523.5 34.2 531.1 37.0 541.0C39.8 550.9 43.2 563.6 46.3 572.6C49.4 581.6 53.1 589.4 55.6 594.8C58.1 600.2 58.5 600.7 61.0 605.0C63.5 609.3 67.3 614.4 70.4 620.7C73.5 627.0 76.8 635.6 79.6 643.0C82.4 650.4 84.7 658.8 87.0 665.0C89.3 671.2 90.9 675.7 93.5 680.0C96.1 684.3 99.5 687.5 102.8 691.0C106.0 694.5 110.2 697.9 113.0 701.3C115.8 704.7 116.9 706.7 119.4 711.5C121.9 716.3 124.9 722.9 127.8 730.0C130.7 737.1 134.2 747.8 137.0 754.0C139.8 760.2 141.3 763.6 144.4 767.0C147.5 770.4 152.7 772.0 155.6 774.4C158.5 776.8 158.0 780.2 162.0 781.5C166.0 782.8 175.7 781.4 179.6 781.9C183.5 782.4 182.2 782.8 185.2 784.6C188.2 786.4 194.6 791.2 197.4 792.6C200.2 794.0 200.0 792.2 202.0 793.0C204.0 793.8 206.8 797.0 209.4 797.2C212.0 797.4 213.0 797.2 217.8 794.3C222.6 791.4 233.5 782.8 238.0 780.0C242.5 777.2 242.1 779.3 244.6 777.8C247.1 776.2 249.8 773.4 253.0 770.7C256.2 768.0 260.9 763.5 264.0 761.5C267.1 759.5 268.4 759.3 271.5 758.7C274.6 758.1 279.9 757.5 282.6 757.8C285.4 758.1 286.1 759.4 288.0 760.6C289.9 761.8 290.3 763.5 293.7 765.0C297.1 766.5 304.6 768.2 308.5 769.8C312.4 771.4 314.1 774.1 316.9 774.4C319.7 774.6 323.2 771.8 325.2 771.3C327.2 770.8 327.4 771.0 328.9 771.7C330.4 772.4 332.2 774.0 334.4 775.4C336.6 776.8 339.9 779.1 341.9 780.0C343.9 780.9 343.7 778.5 346.5 781.0C349.3 783.5 354.9 791.1 358.5 794.8C362.1 798.5 364.7 800.1 367.8 803.0C370.9 805.9 374.2 810.2 377.0 812.4C379.8 814.6 381.6 815.0 384.4 816.0C387.2 817.0 390.9 817.9 393.7 818.3C396.5 818.7 398.7 817.7 401.0 818.3C403.3 818.9 404.8 818.8 407.6 821.7C410.4 824.6 414.6 831.6 417.8 835.6C421.0 839.6 423.9 842.8 427.0 845.7C430.1 848.6 433.8 851.6 436.3 853.0C438.8 854.4 439.7 852.9 441.9 854.0C444.1 855.1 447.1 857.0 449.3 859.6C451.5 862.2 452.7 866.7 454.8 869.8C456.9 872.9 460.0 876.3 462.2 878.0C464.4 879.7 465.0 879.6 467.8 880.0C470.6 880.4 476.1 880.0 478.9 880.4C481.7 880.8 482.4 882.0 484.4 882.2C486.4 882.5 488.8 882.6 490.9 881.9C492.9 881.2 494.5 879.5 496.7 878.0C498.9 876.5 502.1 873.6 504.0 872.6C505.9 871.6 506.0 872.6 507.8 871.7C509.6 870.8 512.7 868.7 515.0 867.0C517.3 865.3 519.5 862.7 521.7 861.5C523.9 860.3 525.1 859.9 528.0 859.6C530.9 859.3 535.9 859.0 539.0 859.6C542.1 860.2 543.0 860.2 546.7 863.3C550.5 866.4 557.8 872.1 561.5 878.0C565.2 883.9 566.4 892.6 568.9 898.5C571.4 904.4 574.4 908.0 576.3 913.3C578.1 918.5 578.1 924.4 580.0 930.0C581.9 935.6 585.2 942.5 587.4 946.7C589.6 950.9 591.1 952.9 593.0 955.0C594.9 957.1 595.7 956.3 598.5 959.6C601.3 962.9 606.4 969.3 609.6 975.0C612.9 980.7 615.8 987.5 618.0 993.7C620.2 999.9 620.6 1005.8 622.6 1012.0C624.6 1018.2 626.9 1025.1 630.0 1030.7C633.1 1036.3 637.9 1042.4 641.0 1045.6C644.1 1048.8 645.5 1048.6 648.5 1049.6C651.5 1050.6 657.0 1051.3 658.7 1051.7" fill="none" stroke="#ff0000" stroke-width="3.0" stroke-linejoin="round"/>
<polyline points="2.2,1781.0 10.0,1774.4 14.4,1726.7 17.8,1677.8 20.0,1660.0 24.4,1586.7 27.8,1508.9 30.0,1484.4 34.4,1462.2 41.0,1448.9 51.0,1460.0 58.9,1468.9 64.4,1491.0 71.0,1495.6 76.7,1507.8 83.3,1486.7 88.9,1468.9 94.4,1435.6 97.8,1464.4 102.2,1513.3 105.6,1553.3 108.9,1597.8 111.0,1642.0 113.3,1693.0 118.9,1717.8 124.4,1693.0 128.9,1660.0 135.6,1631.0 142.2,1604.4 148.9,1586.7 157.8,1577.8 164.4,1582.2 171.0,1597.8 175.6,1615.6 180.0,1635.6 188.9,1650.0 195.6,1650.0 203.3,1659.0 210.0,1693.0 218.9,1726.7 225.6,1766.7 232.2,1788.9 238.9,1800.0 244.4,1817.8 251.0,1832.2 257.8,1841.0 268.9,1839.6 278.9,1850.0 285.6,1860.0 292.2,1851.6 300.0,1861.0 305.6,1861.0 311.0,1866.7 316.7,1851.0 322.2,1825.6 328.9,1818.9 334.4,1830.0 342.2,1822.2 347.8,1818.9 353.3,1807.8 362.2,1798.9 366.7,1788.9 371.0,1775.6 376.7,1786.7 383.3,1793.3 390.0,1785.6 395.6,1781.8 401.0,1791.0 406.7,1806.7 412.2,1782.2 418.9,1774.4 424.4,1776.0 430.0,1761.0 436.7,1773.3 443.3,1778.9 450.0,1775.6 455.6,1760.0 462.2,1744.4 466.7,1740.0 473.3,1748.9 478.9,1751.6 484.4,1750.0 490.0,1762.2 497.8,1771.0 503.3,1777.8 508.9,1775.6 514.4,1791.0 520.0,1793.3 526.7,1788.4 533.3,1796.7 538.9,1823.3 545.6,1830.0 551.0,1836.7 555.6,1820.0 563.3,1793.3 567.8,1766.7 571.0,1737.8 574.4,1711.0 580.0,1688.9 584.4,1660.0 588.9,1644.4 595.6,1633.3 600.0,1615.6 608.9,1593.3 615.6,1577.8 620.0,1548.9 623.3,1531.0 628.9,1515.6 633.3,1482.2 641.0,1473.8 646.7,1477.8 651.0,1497.8 654.4,1517.8 657.8,1537.8 660.0,1553.3" fill="none" stroke="#22aaa4" stroke-width="3.1" stroke-linejoin="round"/>
<path d="M2.2 1548.9C3.3 1552.6 6.3 1562.2 8.9 1571.0C11.5 1579.8 15.2 1591.7 17.8 1602.0C20.4 1612.3 22.7 1623.3 24.4 1633.0C26.1 1642.7 25.9 1649.2 27.8 1660.0C29.7 1670.8 32.8 1683.7 35.6 1697.8C38.4 1711.9 41.1 1727.0 44.4 1744.4C47.7 1761.8 52.3 1785.3 55.6 1802.0C58.9 1818.7 61.8 1833.6 64.4 1844.4C67.0 1855.2 68.6 1860.4 71.0 1866.7C73.4 1873.0 75.9 1878.0 78.9 1882.0C81.9 1886.0 86.1 1889.7 88.9 1891.0C91.7 1892.3 93.0 1891.5 95.6 1890.0C98.2 1888.5 101.5 1885.5 104.4 1882.0C107.4 1878.5 110.4 1873.0 113.3 1869.0C116.2 1865.0 119.0 1860.8 122.0 1857.8C125.0 1854.8 127.7 1854.0 131.0 1851.0C134.3 1848.0 137.9 1844.4 142.0 1840.0C146.1 1835.6 151.5 1828.9 155.6 1824.4C159.7 1820.0 163.0 1818.9 166.7 1813.3C170.4 1807.7 174.1 1799.9 177.8 1791.0C181.5 1782.1 185.2 1771.5 188.9 1760.0C192.6 1748.5 196.3 1733.8 200.0 1722.0C203.7 1710.2 207.7 1698.2 211.0 1689.0C214.3 1679.8 216.7 1675.6 220.0 1666.7C223.3 1657.8 227.3 1646.0 231.0 1635.6C234.7 1625.2 238.5 1615.2 242.2 1604.4C245.9 1593.6 249.6 1582.5 253.3 1571.0C257.0 1559.5 260.7 1545.9 264.4 1535.6C268.1 1525.2 272.3 1515.6 275.6 1508.9C278.9 1502.2 281.8 1498.6 284.4 1495.6C287.0 1492.6 288.6 1491.8 291.0 1490.7C293.4 1489.6 296.5 1488.9 298.9 1488.9C301.3 1489.0 302.8 1489.0 305.6 1491.0C308.4 1493.0 311.7 1497.1 315.6 1501.0C319.5 1504.9 324.8 1510.1 328.9 1514.4C333.0 1518.7 335.9 1523.2 340.0 1526.7C344.1 1530.2 349.6 1532.4 353.3 1535.6C357.0 1538.8 359.2 1542.3 362.2 1545.6C365.1 1548.9 367.7 1550.6 371.0 1555.6C374.3 1560.6 378.9 1570.6 382.2 1575.6C385.5 1580.6 388.0 1582.6 391.0 1585.6C394.0 1588.5 396.7 1591.4 400.0 1593.3C403.3 1595.2 406.9 1595.0 411.0 1596.7C415.1 1598.4 420.3 1601.8 424.4 1603.3C428.5 1604.8 433.0 1604.8 435.6 1605.6C438.2 1606.3 438.1 1606.9 440.0 1607.8C441.9 1608.7 444.1 1608.8 446.7 1611.0C449.3 1613.2 452.7 1617.8 455.6 1621.0C458.6 1624.2 461.6 1628.2 464.4 1630.0C467.2 1631.8 468.9 1632.0 472.2 1631.6C475.5 1631.2 480.9 1629.4 484.4 1627.8C487.9 1626.2 490.3 1625.0 493.3 1622.2C496.3 1619.4 499.2 1616.2 502.2 1611.0C505.1 1605.8 508.0 1598.2 511.0 1591.0C514.0 1583.8 517.0 1575.2 520.0 1567.8C523.0 1560.4 525.9 1553.4 528.9 1546.7C531.9 1540.0 535.2 1533.0 537.8 1527.8C540.4 1522.6 542.2 1518.8 544.4 1515.6C546.6 1512.4 548.8 1509.7 551.0 1508.9C553.2 1508.1 555.6 1509.4 557.8 1510.7C560.0 1512.0 562.2 1513.3 564.4 1516.7C566.6 1520.1 568.8 1525.3 571.0 1531.0C573.2 1536.7 575.6 1542.8 577.8 1551.0C580.0 1559.2 582.2 1570.3 584.4 1580.0C586.6 1589.7 588.8 1598.9 591.0 1608.9C593.2 1618.9 595.8 1631.5 597.8 1640.0C599.8 1648.5 601.1 1652.6 603.3 1660.0C605.5 1667.4 608.2 1675.5 611.0 1684.4C613.8 1693.3 617.0 1704.0 620.0 1713.3C623.0 1722.6 625.9 1733.2 628.9 1740.0C631.9 1746.8 634.8 1750.9 637.8 1754.4C640.8 1757.9 643.9 1759.4 646.7 1761.0C649.5 1762.6 652.4 1763.5 654.4 1763.8C656.4 1764.1 658.1 1762.9 658.9 1762.7" fill="none" stroke="#ff0000" stroke-width="3.6" stroke-linejoin="round"/>
<g fill="#000" shape-rendering="crispEdges">
<rect x="1" y="229" width="871" height="1"/>
<rect x="1" y="229" width="1" height="1153"/>
<rect x="871" y="229" width="1" height="1153"/>
<rect x="1" y="1381" width="872" height="1"/>
<rect x="1" y="1383" width="872" height="1"/>
<rect x="873" y="1384" width="4" height="1"/>
<rect x="1" y="1383" width="1" height="578"/>
<rect x="871" y="1383" width="1" height="578"/>
<rect x="1" y="1960" width="876" height="1"/>
<rect x="872" y="325" width="5" height="1"/>
<rect x="872" y="421" width="5" height="1"/>
<rect x="872" y="517" width="5" height="1"/>
<rect x="872" y="613" width="5" height="1"/>
<rect x="872" y="709" width="5" height="1"/>
<rect x="872" y="805" width="5" height="1"/>
<rect x="872" y="901" width="5" height="1"/>
<rect x="872" y="997" width="5" height="1"/>
<rect x="872" y="1093" width="5" height="1"/>
<rect x="872" y="1189" width="5" height="1"/>
<rect x="872" y="1285" width="5" height="1"/>
<rect x="22" y="1961" width="1" height="4"/>
<rect x="310" y="1961" width="1" height="4"/>
<rect x="598" y="1961" width="1" height="4"/>
</g>
<text x="13.97" y="282" font-family="Liberation Sans, Arial, sans-serif" font-size="37" fill="#000" textLength="175.54" lengthAdjust="spacingAndGlyphs">BTCUSDm,</text>
<text x="198.35" y="282" font-family="Liberation Sans, Arial, sans-serif" font-size="37" fill="#000" textLength="41.73" lengthAdjust="spacingAndGlyphs">H1</text>
<rect x="3" y="297" width="671" height="40" fill="#fff"/>
<text x="11.88" y="329.5" font-family="Liberation Sans, Arial, sans-serif" font-size="37" fill="#000" textLength="154.43" lengthAdjust="spacingAndGlyphs">45367.11</text>
<text x="180.69" y="329.5" font-family="Liberation Sans, Arial, sans-serif" font-size="37" fill="#000" textLength="155.44" lengthAdjust="spacingAndGlyphs">45520.08</text>
<text x="348.49" y="329.5" font-family="Liberation Sans, Arial, sans-serif" font-size="37" fill="#000" textLength="156.46" lengthAdjust="spacingAndGlyphs">44976.48</text>
<text x="516.79" y="329.5" font-family="Liberation Sans, Arial, sans-serif" font-size="37" fill="#000" textLength="155.75" lengthAdjust="spacingAndGlyphs">45364.03</text>
<text x="878.2" y="338" font-family="Liberation Sans, Arial, sans-serif" font-size="37" fill="#000" textLength="157" lengthAdjust="spacingAndGlyphs" >57474.95</text>
<text x="878.2" y="434" font-family="Liberation Sans, Arial, sans-serif" font-size="37" fill="#000" textLength="157" lengthAdjust="spacingAndGlyphs" >55898.90</text>
<text x="878.2" y="530" font-family="Liberation Sans, Arial, sans-serif" font-size="37" fill="#000" textLength="157" lengthAdjust="spacingAndGlyphs" >54322.85</text>
<text x="878.2" y="626" font-family="Liberation Sans, Arial, sans-serif" font-size="37" fill="#000" textLength="157" lengthAdjust="spacingAndGlyphs" >52746.80</text>
<text x="878.2" y="722" font-family="Liberation Sans, Arial, sans-serif" font-size="37" fill="#000" textLength="157" lengthAdjust="spacingAndGlyphs" >51170.75</text>
<text x="878.2" y="818" font-family="Liberation Sans, Arial, sans-serif" font-size="37" fill="#000" textLength="157" lengthAdjust="spacingAndGlyphs" >49594.70</text>
<text x="878.2" y="914" font-family="Liberation Sans, Arial, sans-serif" font-size="37" fill="#000" textLength="157" lengthAdjust="spacingAndGlyphs" >48018.65</text>
<text x="878.2" y="1010" font-family="Liberation Sans, Arial, sans-serif" font-size="37" fill="#000" textLength="157" lengthAdjust="spacingAndGlyphs" >46442.60</text>
<text x="878.2" y="1106" font-family="Liberation Sans, Arial, sans-serif" font-size="37" fill="#000" textLength="157" lengthAdjust="spacingAndGlyphs" >44866.55</text>
<text x="878.2" y="1202" font-family="Liberation Sans, Arial, sans-serif" font-size="37" fill="#000" textLength="157" lengthAdjust="spacingAndGlyphs" >43290.50</text>
<text x="878.2" y="1298" font-family="Liberation Sans, Arial, sans-serif" font-size="37" fill="#000" textLength="157" lengthAdjust="spacingAndGlyphs" >41714.45</text>
<rect x="875.300" y="1043" width="177.700" height="42" fill="#4099f6"/>
<text x="885.2" y="1076.3" font-family="Liberation Sans, Arial, sans-serif" font-size="37" fill="#fff" textLength="156.5" lengthAdjust="spacingAndGlyphs" >45364.03</text>
<rect x="3" y="1393" width="868" height="42" fill="#fff"/>
<text x="9.20" y="1426" font-family="Liberation Sans, Arial, sans-serif" font-size="37" fill="#000" textLength="136.24" lengthAdjust="spacingAndGlyphs">ATR(14)</text>
<text x="155.44" y="1426" font-family="Liberation Sans, Arial, sans-serif" font-size="37" fill="#000" textLength="136.64" lengthAdjust="spacingAndGlyphs">1331.08</text>
<text x="303.50" y="1426" font-family="Liberation Sans, Arial, sans-serif" font-size="37" fill="#000" textLength="248.87" lengthAdjust="spacingAndGlyphs">MACD(12,26,9)</text>
<text x="565.90" y="1426" font-family="Liberation Sans, Arial, sans-serif" font-size="37" fill="#000" textLength="145.97" lengthAdjust="spacingAndGlyphs">-829.709</text>
<text x="723.39" y="1426" font-family="Liberation Sans, Arial, sans-serif" font-size="37" fill="#000" textLength="147.30" lengthAdjust="spacingAndGlyphs">-1046.75</text>
<text x="877.9" y="1417" font-family="Liberation Sans, Arial, sans-serif" font-size="37" fill="#000" textLength="136.2" lengthAdjust="spacingAndGlyphs" >1709.24</text>
<text x="878.2" y="1952.2" font-family="Liberation Sans, Arial, sans-serif" font-size="37" fill="#000" textLength="114.7" lengthAdjust="spacingAndGlyphs" >429.98</text>
<text x="22.2" y="1997.8" font-family="Liberation Sans, Arial, sans-serif" font-size="37" fill="#000" textLength="226.6" lengthAdjust="spacingAndGlyphs" >12 May 23:00</text>
<text x="310.4" y="1997.8" font-family="Liberation Sans, Arial, sans-serif" font-size="37" fill="#000" textLength="226.6" lengthAdjust="spacingAndGlyphs" >14 May 23:00</text>
<text x="598.6" y="1997.8" font-family="Liberation Sans, Arial, sans-serif" font-size="37" fill="#000" textLength="226.6" lengthAdjust="spacingAndGlyphs" >16 May 23:00</text>
</svg>
<div id="nav"></div>
<svg id="navsvg" width="1080" height="146" viewBox="0 2014 1080 146" style="position:absolute;left:0;top:2014px">
<!-- quotes arrows -->
<path d="M73.900 2090.500Q73.900 2088.500 75.500 2089.700L81.300 2093.700L101.500 2074.200Q103.100 2072.700 104.700 2074.200L115.600 2084.500Q117 2086 115.600 2087.500L97 2108.500L101 2112.600Q102 2113.800 100.300 2114.100L78.500 2117.600Q73.900 2118.200 73.900 2114Z" fill="#757575"/>
<path d="M112.500 2075.400L120.400 2068L111.800 2059.600L144.200 2056.800L141.600 2089L133.800 2081.900L108.800 2106.200" fill="none" stroke="#757575" stroke-width="4.300" stroke-linejoin="miter" stroke-linecap="butt"/>
<!-- chart candles (active) -->
<g fill="#3d9aff">
<rect x="251.300" y="2049" width="6.400" height="54" rx="3.200"/>
<rect x="244.400" y="2058" width="20.300" height="34" rx="2.500"/>
<rect x="278.300" y="2058.500" width="6.400" height="63.500" rx="3.200"/>
<rect x="271" y="2068.500" width="21" height="39.300" rx="2.500"/>
<rect x="305.200" y="2049" width="6.400" height="55" rx="3.200"/>
<rect x="298.300" y="2058" width="20.300" height="34" rx="2.500"/>
</g>
<rect x="277" y="2074.500" width="9" height="27" fill="#f7f7f7"/>
<!-- trade -->
<g fill="none" stroke="#757575" stroke-width="5.600" stroke-linecap="round" stroke-linejoin="miter">
<path d="M420.500 2100.500L443 2080L451 2088.700L485 2055.500"/>
<path d="M474 2054.500L486.500 2054L486 2066.500" stroke-linejoin="round"/>
<path d="M425.500 2115.200L441.500 2099.200"/>
<path d="M442.500 2115.200L458.500 2099.200"/>
</g>
<!-- history inbox -->
<path d="M605 2052H648.500Q653.500 2052 656 2056.500Q662.900 2069 662.900 2083.500V2112.800Q662.900 2117.800 657.900 2117.800H596.100Q591.100 2117.800 591.100 2112.800V2083.500Q591.100 2069 598 2056.500Q600.500 2052 605 2052ZM610.500 2058Q607 2058 605.500 2061Q600.500 2071 598.500 2080.500Q598 2085.100 602 2085.100H614Q614 2100 626.500 2100Q639 2100 639 2085.100H652Q656.400 2085.100 655.900 2080.500Q653.500 2071 648.700 2061Q647.200 2058 643.500 2058Z" fill="#757575" fill-rule="evenodd"/>
<!-- news -->
<g fill="none" stroke="#757575" stroke-width="5.900">
<rect x="781" y="2051.700" width="54.100" height="66.300" rx="4.500"/>
<path d="M773.400 2066.800H772Q766 2066.800 766 2072.800V2112Q766 2118 772 2118H781" />
<rect x="793" y="2078" width="9" height="18" rx="1.500"/>
<path d="M793.200 2066H823M813.800 2077.800H823.300M813.800 2086.900H823.300M813.800 2095.900H823.300" stroke-linecap="round"/>
</g>
<!-- chat -->
<circle cx="957.800" cy="2083.500" r="35.800" fill="#757575"/>
<path d="M926.500 2100Q928.500 2112 922.300 2119.200Q921.600 2120.600 923 2120.800Q933 2119.500 940 2112Z" fill="#757575"/>
<circle cx="944.400" cy="2080.500" r="4.200" fill="#f1f1f1"/><circle cx="957.800" cy="2080.500" r="4.200" fill="#f1f1f1"/><circle cx="971.200" cy="2080.500" r="4.200" fill="#f1f1f1"/>
<circle cx="983.300" cy="2106" r="23.800" fill="#ff9c1a"/>
<text x="983.300" y="2118" text-anchor="middle" font-family="Liberation Sans, Arial, sans-serif" font-size="30" fill="#fff">1</text>
<!-- watermark logo -->
<path d="M861.500 2081.500Q879 2082.500 878.500 2099Q877.500 2113 864 2116Q860 2120.500 854.500 2122.500Q856.500 2119 857 2115.500Q844.500 2111 844.500 2098.500Q845.500 2082.500 861.500 2081.500Z" fill="#fff"/>
<path d="M877 2086.500Q866 2085.500 862 2096Q858.500 2105.500 851 2113" fill="none" stroke="#3a3a3a" stroke-width="1.400"/>
<path d="M848.500 2098.300L853 2096.200L876 2095.800" fill="none" stroke="#3a3a3a" stroke-width="1.300"/>
<path d="M878.500 2101Q875 2112 865.500 2116.500" fill="none" stroke="#666" stroke-width="1.100"/>
</svg>
<div class="abs" style="left:879px;top:2068.5px;font-size:37.500px;line-height:50px;color:#fff;white-space:nowrap;letter-spacing:1.300px;font-family:'Noto Sans CJK SC','WenQuanYi Zen Hei','Liberation Sans',sans-serif;text-shadow:1.500px 1.500px 1px rgba(40,40,40,0.850)">@悦信泰壹</div>

</body></html>
